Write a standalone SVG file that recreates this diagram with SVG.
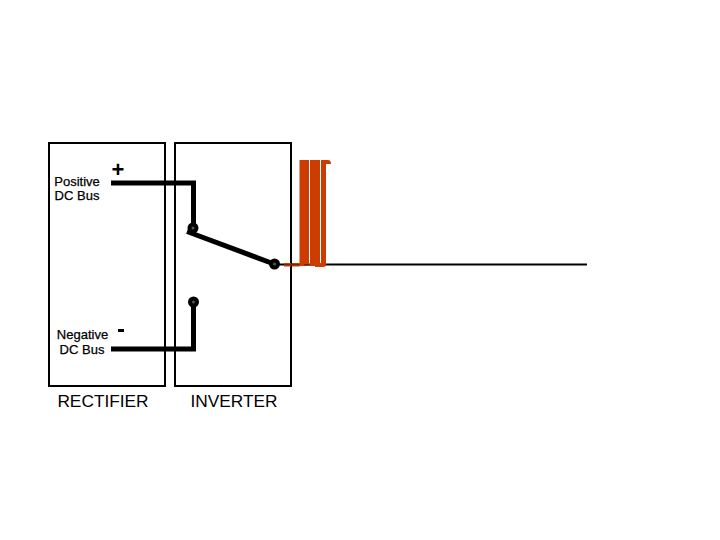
<svg xmlns="http://www.w3.org/2000/svg" width="720" height="540" viewBox="0 0 720 540">
<style>
.box{fill:none;stroke:#000;stroke-width:2}
.bus{fill:none;stroke:#000;stroke-width:5}
.pulse{fill:#cc3b00}
.dot{fill:#000;stroke:none}
text{font-family:"Liberation Sans",Arial,sans-serif;fill:#000}
.sm{font-size:13px;text-anchor:middle;stroke:#000;stroke-width:.25}
.lg{font-size:17.300px;text-anchor:middle}
.sign{font-size:22px;font-weight:bold;text-anchor:middle}
</style>
<rect width="720" height="540" fill="#fff"/>
<g id="rectifier"><rect class="box" x="49" y="143" width="116" height="243"/>
<text class="lg" x="103" y="407">RECTIFIER</text></g>
<g id="inverter"><rect class="box" x="175" y="143" width="116" height="243"/>
<text class="lg" x="234" y="407">INVERTER</text></g>
<g id="positive-bus"><text class="sm" x="77" y="186">Positive</text><text class="sm" x="77" y="200">DC Bus</text>
<text class="sign" x="118" y="177">+</text></g>
<g id="negative-bus"><text class="sm" x="82.500" y="339">Negative</text><text class="sm" x="82" y="354">DC Bus</text>
<rect x="118" y="329" width="6" height="3" fill="#000"/></g>
<g id="connectors">
<path class="bus" d="M111 183H193.500V226"/>
<path class="bus" d="M111 349H193.500V303"/>
<path class="bus" d="M187 231.500L274 264"/>
<path d="M274 264.500H587" fill="none" stroke="#000" stroke-width="2"/>
</g>
<g id="output-pulses">
<path class="pulse" d="M299.500 160H309V266H299.500ZM310 160H320V266H310Z"/>
<path class="pulse" d="M321 160H328Q331 160 331 164H326V265Q326 267 322 267H315V263H321Z"/>
<path fill="#cc3b00" d="M284 263H291V266.500H284ZM292 263H299.500V266.500H292Z"/>
<path d="M284 264.700H299.500M304 264.700H310" stroke="#6b2a10" stroke-width="1.200" fill="none"/>
</g>
<g id="switch-contacts">
<circle class="dot" cx="193" cy="228" r="5.500"/><circle cx="193" cy="228" r="1.500" fill="#555"/>
<circle class="dot" cx="193.500" cy="302" r="5.500"/><circle cx="193.500" cy="302" r="1.500" fill="#555"/>
<circle class="dot" cx="274.500" cy="264" r="5.500"/><circle cx="274.500" cy="264" r="1.500" fill="#555"/>
</g>
</svg>
